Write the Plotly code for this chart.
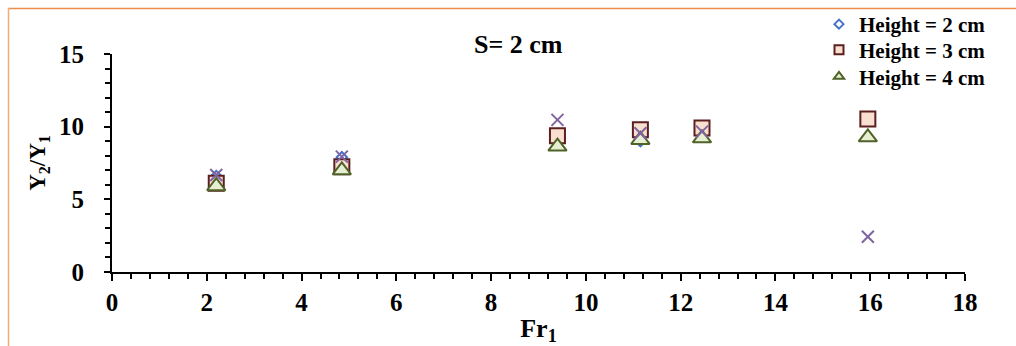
import plotly.graph_objects as go

fr1 = [2.2, 4.85, 9.4, 11.15, 12.45, 15.95]
h2 = [6.6, 7.9, 9.4, 9.0, 9.6, 10.5]
h3 = [6.1, 7.25, 9.37, 9.78, 9.9, 10.52]
h4 = [5.9, 7.0, 8.63, 9.09, 9.2, 9.27]
extra = [6.67, 7.94, 10.47, 9.55, 9.66, 2.42]

names = ["Height = 2 cm", "Height = 3 cm", "Height = 4 cm"]
FONT = "Liberation Serif"

fig = go.Figure()

fig.add_trace(go.Scatter(x=fr1, y=h2, mode="markers", showlegend=False,
                         marker=dict(symbol="diamond", size=8, color="white",
                                     line=dict(color="#4472C4", width=2))))
fig.add_trace(go.Scatter(x=fr1, y=h3, mode="markers", showlegend=False,
                         marker=dict(symbol="square", size=15, color="#F9DFD0",
                                     line=dict(color="#5C1F1F", width=2))))
fig.add_trace(go.Scatter(x=fr1, y=h4, mode="markers", showlegend=False,
                         marker=dict(symbol="triangle-up", size=16, color="#E7EFD2",
                                     line=dict(color="#4F6228", width=2))))
fig.add_trace(go.Scatter(x=fr1, y=extra, mode="markers", showlegend=False,
                         marker=dict(symbol="x-thin", size=12, color="#8064A2",
                                     line=dict(color="#8064A2", width=2))))

# legend entries (one legend per row for exact spacing)
fig.add_trace(go.Scatter(x=[None], y=[None], mode="markers", name=names[0], legend="legend",
                         marker=dict(symbol="diamond", size=7, color="white",
                                     line=dict(color="#4472C4", width=2))))
fig.add_trace(go.Scatter(x=[None], y=[None], mode="markers", name=names[1], legend="legend2",
                         marker=dict(symbol="square", size=9, color="#F9DFD0",
                                     line=dict(color="#5C1F1F", width=2))))
fig.add_trace(go.Scatter(x=[None], y=[None], mode="markers", name=names[2], legend="legend3",
                         marker=dict(symbol="triangle-up", size=9, color="#E7EFD2",
                                     line=dict(color="#4F6228", width=2))))

L, R, T, B = 112, 51, 54, 74
W, H = 1016, 346
pw, ph = W - L - R, H - T - B

def px(x):
    return (x - L) / pw

def py(y):
    return (H - B - y) / ph

def leg(top):
    return dict(x=px(819), y=py(top), xanchor="left", yanchor="top",
                font=dict(family=FONT, size=21, color="black", weight="bold"),
                bgcolor="rgba(0,0,0,0)")

fig.update_layout(
    width=W, height=H,
    margin=dict(l=L, r=R, t=T, b=B, autoexpand=False),
    paper_bgcolor="white", plot_bgcolor="white",
    font=dict(family=FONT, color="black"),
    showlegend=True,
    legend=leg(4), legend2=leg(29.7), legend3=leg(56.3),
    xaxis=dict(range=[0, 18], dtick=2, tick0=0, showgrid=False, zeroline=False,
               automargin=False,
               showline=True, linecolor="black", linewidth=2,
               ticks="outside", ticklen=7, tickwidth=2, tickcolor="black",
               minor=dict(dtick=0.4, ticks="outside", ticklen=5, tickwidth=1.5,
                          tickcolor="black", showgrid=False),
               tickfont=dict(family=FONT, size=25, color="black", weight="bold"),
               title=dict(text="<b>Fr<sub>1</sub></b>", standoff=6,
                          font=dict(family=FONT, size=26, color="black"))),
    yaxis=dict(range=[0, 15], dtick=5, tick0=0, showgrid=False, zeroline=False,
               automargin=False,
               showline=True, linecolor="black", linewidth=2,
               ticks="outside", ticklen=6, tickwidth=2, tickcolor="black",
               ticklabelstandoff=15,
               minor=dict(dtick=1, ticks="outside", ticklen=5, tickwidth=1.5,
                          tickcolor="black", showgrid=False),
               tickfont=dict(family=FONT, size=25, color="black", weight="bold"),
               title=dict(text="<b>Y<sub>2</sub>/Y<sub>1</sub></b>", standoff=7,
                          font=dict(family=FONT, size=23, color="black"))),
    annotations=[dict(text="<b>S= 2 cm</b>", x=px(518), y=py(45), xref="paper", yref="paper",
                      showarrow=False, xanchor="center", yanchor="middle",
                      font=dict(family=FONT, size=26, color="black"))],
    shapes=[
        dict(type="line", xref="paper", yref="paper", x0=px(8), x1=px(1016), y0=py(8.5), y1=py(8.5),
             line=dict(color="#EE8C4C", width=1.5)),
        dict(type="line", xref="paper", yref="paper", x0=px(8.5), x1=px(8.5), y0=py(8), y1=py(346),
             line=dict(color="#F2AE7A", width=1.5)),
    ],
)

fig.write_html("out.html", config={"displayModeBar": False},
               post_script="document.body.style.margin='0px';")
